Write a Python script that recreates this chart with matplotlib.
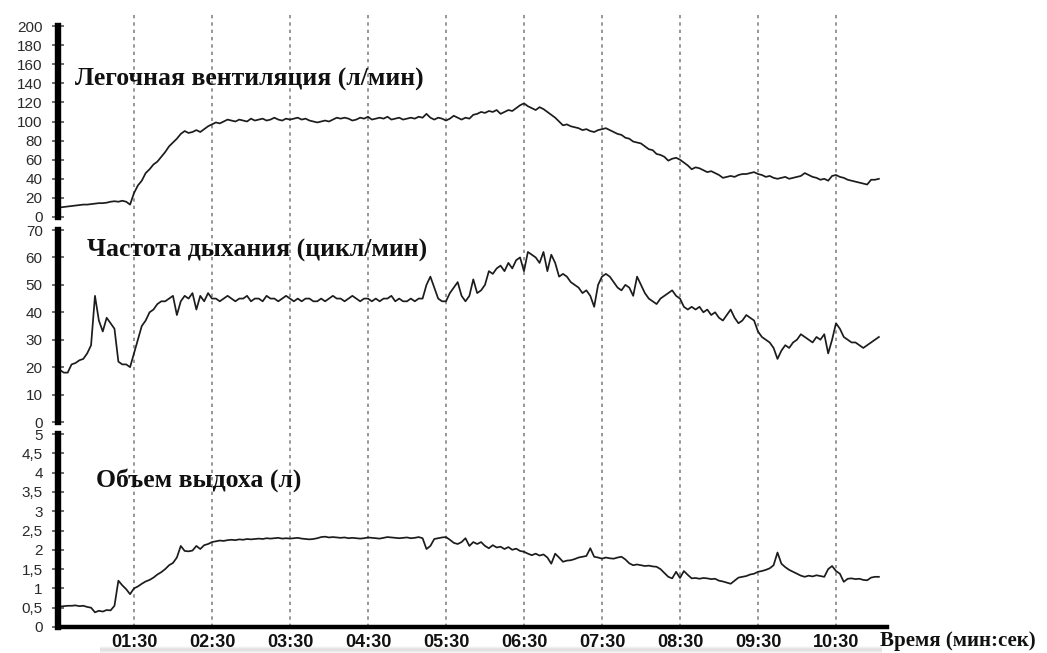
import numpy as np
import matplotlib.pyplot as plt
from matplotlib.ticker import MultipleLocator

# time axis in minutes, one sample every 3 s
t_start = 0.55
t_step = 0.05

# minute ventilation, l/min
ventilation = [10, 10.5, 11, 11.5, 12, 12.5, 13, 13, 13.5, 14,
               14.5, 14.5, 15, 16, 16.5, 16, 17, 16, 13, 25,
               33, 38, 46, 50, 55, 58, 63, 68, 74, 78,
               82, 87, 90, 88, 89, 91, 89, 92, 95, 97,
               99, 98, 100, 102, 101, 100, 102, 101, 100, 103,
               101, 102, 103, 101, 102, 104, 102, 101, 103, 102,
               103, 104, 102, 103, 101, 100, 99, 100, 101, 100,
               102, 104, 103, 104, 103, 101, 102, 104, 103, 105,
               102, 103, 104, 103, 105, 102, 103, 104, 102, 103,
               104, 103, 105, 104,
               108, 104, 102, 104, 103, 101, 103, 106, 104, 102,
               104, 103, 107, 108, 110, 109, 111, 110, 112, 108,
               110, 112, 111, 114, 117, 119, 116, 114, 112, 115,
               113, 110, 107, 104, 100, 96, 97, 95, 94, 93,
               91, 92, 90, 89, 91, 92, 93, 91, 89, 87,
               86, 83, 82, 79, 78, 77, 74, 71, 70, 66,
               65, 63, 59, 61, 62, 60, 57, 54, 50, 52,
               51, 49, 47, 48, 46, 44, 41, 42, 43, 42,
               44, 45, 45, 46, 47, 45, 44, 42, 43, 41,
               40, 41, 42, 40, 41, 42, 43, 46, 44, 42,
               41, 39, 40, 38, 43, 44, 42, 41, 39, 38,
               37, 36, 35, 34, 39, 39, 40]

# breathing rate, cycles/min
resp_rate = [19, 18, 18, 21, 21.5, 22.5, 23, 25, 28, 46,
             37, 33, 38, 36, 34, 22, 21, 21, 20, 25,
             30, 35, 37, 40, 41, 43, 44, 44, 45, 46,
             39, 44, 46, 45, 47, 41, 46, 44, 47, 45,
             45, 44, 45, 46, 45, 44, 45, 45, 46, 44,
             45, 45, 44, 46, 45, 45, 44, 45, 46, 45,
             44, 45, 44, 45, 45, 44, 44, 45, 44, 45,
             46, 45, 45, 44, 45, 46, 45, 44, 45, 45,
             44, 45, 44, 45, 45, 46, 44, 45, 44, 44,
             45, 44, 45, 45,
             50, 53, 49, 45, 44, 44, 47, 49, 51, 46,
             44, 46, 52, 47, 48, 50, 55, 54, 56, 57,
             55, 58, 56, 59, 60, 55, 62, 61, 60, 58,
             62, 55, 61, 58, 53, 54, 53, 51, 50, 49,
             47, 48, 46, 42, 50, 53, 54, 53, 51, 49,
             48, 50, 49, 46, 53, 50, 47, 45, 44, 43,
             45, 46, 47, 48, 46, 45, 42, 41, 42, 41,
             42, 40, 41, 39, 40, 38, 37, 39, 41, 38,
             36, 37, 39, 38, 37, 33, 31, 30, 29, 27,
             23, 26, 28, 27, 29, 30, 32, 31, 30, 29,
             31, 30, 32, 25, 30, 36, 34, 31, 30, 29,
             29, 28, 27, 28, 29, 30, 31]

# tidal volume, l
tidal_volume = [0.53, 0.54, 0.55, 0.55, 0.56, 0.54, 0.55, 0.52, 0.5, 0.38,
                0.42, 0.4, 0.44, 0.43, 0.55, 1.2, 1.08, 0.98, 0.85, 1.0,
                1.05, 1.12, 1.18, 1.22, 1.28, 1.36, 1.42, 1.5, 1.6, 1.66,
                1.8, 2.1, 1.97, 1.96, 1.98, 2.1, 2.02, 2.12, 2.15, 2.2,
                2.22, 2.24, 2.23, 2.25, 2.26, 2.25, 2.27, 2.26, 2.28, 2.27,
                2.28, 2.29, 2.28, 2.3, 2.29, 2.3, 2.31, 2.29, 2.3, 2.29,
                2.3, 2.31, 2.29, 2.28, 2.27, 2.28, 2.3, 2.33, 2.34, 2.32,
                2.33, 2.32, 2.31, 2.32, 2.3, 2.31, 2.3, 2.29, 2.3, 2.32,
                2.31, 2.3, 2.29, 2.31, 2.33, 2.32, 2.31, 2.3, 2.31, 2.32,
                2.3, 2.31, 2.33, 2.3,
                2.02, 2.1, 2.28,
                2.3, 2.32, 2.33, 2.26, 2.18, 2.15, 2.2, 2.3, 2.1, 2.2,
                2.15, 2.2, 2.1, 2.04, 2.12, 2.06, 2.08, 2.02, 2.07, 2.0,
                2.03, 1.97, 1.95, 1.9, 1.86, 1.9, 1.85, 1.88, 1.8, 1.64,
                1.9, 1.8, 1.69, 1.72, 1.73, 1.76, 1.8, 1.82, 1.84, 2.04,
                1.82, 1.8, 1.77, 1.8, 1.78, 1.77, 1.8, 1.82, 1.75, 1.65,
                1.6, 1.62, 1.6, 1.58, 1.59, 1.57, 1.56, 1.5, 1.4, 1.3,
                1.26, 1.43, 1.27, 1.45, 1.35, 1.26, 1.27, 1.25, 1.27, 1.26,
                1.24, 1.25, 1.2, 1.18, 1.15, 1.12, 1.2, 1.28, 1.3, 1.32,
                1.36, 1.38, 1.43, 1.45, 1.48, 1.52, 1.6, 1.93, 1.64, 1.55,
                1.48, 1.43, 1.38, 1.33, 1.3, 1.33, 1.31, 1.34, 1.32, 1.3,
                1.5, 1.58, 1.45, 1.38, 1.17, 1.25, 1.26, 1.24, 1.25, 1.22,
                1.21, 1.28, 1.3, 1.3]

grid_minutes = [1.5, 2.5, 3.5, 4.5, 5.5, 6.5, 7.5, 8.5, 9.5, 10.5]
time_labels = ['01:30', '02:30', '03:30', '04:30', '05:30',
               '06:30', '07:30', '08:30', '09:30', '10:30']

panels = [
    ('Легочная вентиляция (л/мин)', ventilation, 200,
     [0, 20, 40, 60, 80, 100, 120, 140, 160, 180, 200],
     ['0', '20', '40', '60', '80', '100', '120', '140', '160', '180', '200'], 5),
    ('Частота дыхания (цикл/мин)', resp_rate, 70,
     [0, 10, 20, 30, 40, 50, 60, 70],
     ['0', '10', '20', '30', '40', '50', '60', '70'], 2),
    ('Объем выдоха (л)', tidal_volume, 5,
     [0, 0.5, 1, 1.5, 2, 2.5, 3, 3.5, 4, 4.5, 5],
     ['0', '0,5', '1', '1,5', '2', '2,5', '3', '3,5', '4', '4,5', '5'], 0.1),
]

W, H = 1047, 653
fig = plt.figure(figsize=(W / 100, H / 100), dpi=100)
fig.patch.set_facecolor('white')


def box(left, top, right, bottom):
    return [left / W, 1 - bottom / H, (right - left) / W, (bottom - top) / H]


xlim = (0.526, 11.154)

# faint grey shading strip under the time labels
sax = fig.add_axes(box(100, 645, 882, 653))
shade = np.array([[0.0], [0.08], [0.17], [0.22], [0.18], [0.1]])
sax.imshow(shade, aspect='auto', cmap='Greys', vmin=0, vmax=1, interpolation='bilinear')
sax.axis('off')

# dotted minute grid running through all three panels
gax = fig.add_axes(box(58, 12, 887, 627))
gax.set_xlim(*xlim)
gax.set_ylim(0, 1)
for m in grid_minutes:
    gax.axvline(m, color='#7a7a7a', lw=1.1, ls=(0, (2.2, 2.6)))
gax.axis('off')

rows = [(26, 217), (230, 422), (434, 627)]
title_pos = [(75, 79), (87, 250), (96, 480)]
axes = []
for (title, values, top_val, ticks, labels, minor), (top, bottom), (tx, ty) in zip(panels, rows, title_pos):
    ax = fig.add_axes(box(58, top, 887, bottom))
    ax.patch.set_alpha(0)
    t = t_start + t_step * np.arange(len(values))
    ax.plot(t, values, color='#1c1c1c', lw=1.25)
    ax.set_xlim(*xlim)
    ax.set_ylim(0, top_val)
    for side in ['top', 'right', 'bottom']:
        ax.spines[side].set_visible(False)
    ax.spines['left'].set_linewidth(4.6)
    ax.spines['left'].set_color('black')
    ax.set_yticks(ticks, labels)
    ax.yaxis.set_minor_locator(MultipleLocator(minor))
    ax.tick_params(axis='y', which='major', direction='inout', length=8, width=1.2,
                   color='#555555', labelsize=11, labelcolor='#2a2a2a', pad=7)
    ax.tick_params(axis='y', which='minor', direction='inout', length=3.5, width=0.8,
                   color='#777777')
    for lab in ax.get_yticklabels():
        lab.set_family('Liberation Sans')
    ax.set_xticks([])
    fig.text(tx / W, 1 - ty / H, title, family='Liberation Serif', weight='bold',
             fontsize=18.5, color='#111111', va='center', ha='left')
    axes.append(ax)

ax3 = axes[-1]
ax3.spines['bottom'].set_visible(True)
ax3.spines['bottom'].set_linewidth(3.2)
ax3.spines['bottom'].set_color('black')
ax3.set_xticks(grid_minutes, time_labels)
ax3.tick_params(axis='x', length=0, pad=5, labelsize=13, labelcolor='#111111')
for lab in ax3.get_xticklabels():
    lab.set_family('Liberation Sans')
    lab.set_fontweight('bold')

fig.text(880 / W, 1 - 641 / H, 'Время (мин:сек)', family='Liberation Serif',
         weight='bold', fontsize=15, color='#111111', va='center', ha='left')

fig.savefig('out.png', dpi=100)
